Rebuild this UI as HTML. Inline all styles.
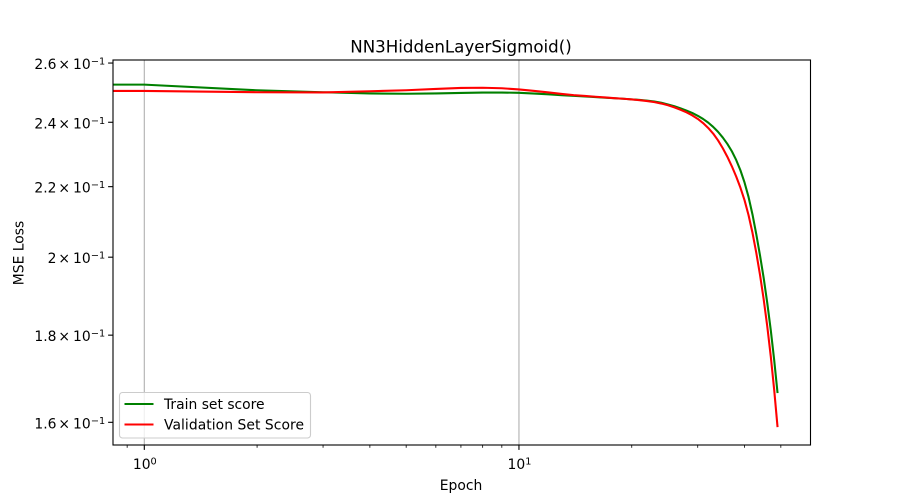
<!DOCTYPE html>
<html lang="en">
<head>
<meta charset="utf-8">
<title>NN3HiddenLayerSigmoid()</title>
<style>
html,body{margin:0;padding:0;background:#fff;}
svg{display:block;font-family:"DejaVu Sans","Liberation Sans",sans-serif;fill:#000;}
</style>
</head>
<body>
<svg id="chart" xmlns="http://www.w3.org/2000/svg" width="900" height="500" viewBox="0 0 900 500">
<rect x="0" y="0" width="900" height="500" fill="#fff"/>
<text x="461" y="52.5" font-size="16.67" text-anchor="middle" fill="#000">NN3HiddenLayerSigmoid()</text>
<text x="461" y="490" font-size="13.89" text-anchor="middle" fill="#000">Epoch</text>
<text x="0" y="0" font-size="13.89" text-anchor="middle" fill="#000" transform="translate(23.5 253) rotate(-90)">MSE Loss</text>
<g id="plot"></g>
<g>
<rect x="119.5" y="392.5" width="191" height="45.5" rx="3" ry="3" fill="#fff" fill-opacity="0.8" stroke="#ccc" stroke-width="1.1"/>
<line x1="124.5" y1="404" x2="153.5" y2="404" stroke="#008000" stroke-width="2.08"/>
<text x="164" y="409" font-size="13.89" fill="#000">Train set score</text>
<line x1="124.5" y1="424.5" x2="153.5" y2="424.5" stroke="#ff0000" stroke-width="2.08"/>
<text x="164" y="429.5" font-size="13.89" fill="#000" textLength="140">Validation Set Score</text>
</g>
</svg>
<script>
const epochs = [0.825,1,2,3,4,5,6,7,8,9,10,11,12,13,14,15,16,17,18,19,20,21,22,23,24,25,26,27,28,29,30,31,32,33,34,35,36,37,38,39,40,41,42,43,44,45,46,47,48,49];
const trainScores = [0.25252,0.25252,0.25061,0.24994,0.24953,0.24943,0.24953,0.24970,0.24984,0.24984,0.24974,0.24950,0.24923,0.24896,0.24872,0.24852,0.24832,0.24809,0.24792,0.24775,0.24755,0.24735,0.24712,0.24682,0.24642,0.24585,0.24525,0.24456,0.24383,0.24304,0.24212,0.24108,0.23988,0.23849,0.23691,0.23509,0.23307,0.23078,0.22808,0.22493,0.22125,0.21696,0.21192,0.20627,0.20044,0.19443,0.18798,0.18124,0.17404,0.16645];
const validationScores = [0.25038,0.25038,0.24994,0.24987,0.25028,0.25061,0.25106,0.25139,0.25146,0.25129,0.25089,0.25038,0.24987,0.24936,0.24896,0.24869,0.24842,0.24819,0.24795,0.24775,0.24752,0.24728,0.24698,0.24662,0.24615,0.24559,0.24489,0.24409,0.24324,0.24226,0.24111,0.23975,0.23816,0.23634,0.23418,0.23172,0.22904,0.22615,0.22305,0.21970,0.21601,0.21169,0.20674,0.20118,0.19527,0.18892,0.18215,0.17491,0.16717,0.15897];
const xMajorTicks = [1,10];
const xMajorExponents = ["0","1"];
const xMinorTicks = [0.9,2,3,4,5,6,7,8,9,20,30,40,50];
const yTicks = [0.26,0.24,0.22,0.20,0.18,0.16];
const yTickMantissas = ["2.6","2.4","2.2","2","1.8","1.6"];
const xDomain = [0.825,60];
const yDomain = [0.15517,0.26107];

const NS = 'http://www.w3.org/2000/svg';
const plotLeft = 113, plotRight = 810.5, plotTop = 60, plotBottom = 445;
function xScale(v){
  return plotLeft + (Math.log10(v) - Math.log10(xDomain[0])) / (Math.log10(xDomain[1]) - Math.log10(xDomain[0])) * (plotRight - plotLeft);
}
function yScale(v){
  return plotBottom - (Math.log10(v) - Math.log10(yDomain[0])) / (Math.log10(yDomain[1]) - Math.log10(yDomain[0])) * (plotBottom - plotTop);
}
function make(tag, attrs, parent){
  const el = document.createElementNS(NS, tag);
  for (const k in attrs) el.setAttribute(k, attrs[k]);
  parent.appendChild(el);
  return el;
}
const plot = document.getElementById('plot');

const bg = make('rect', {x:plotLeft, y:plotTop, width:plotRight-plotLeft, height:plotBottom-plotTop, fill:'#fff'}, plot);



xMajorTicks.forEach(function(t){
  const g = make('line', {x1:xScale(t), x2:xScale(t), y1:plotTop, y2:plotBottom, stroke:'#b0b0b0', 'stroke-width':1.1}, plot);
  
  
});

const defs = make('defs', {}, plot);
const clip = make('clipPath', {id:'plot-clip'}, defs);
make('rect', {x:plotLeft, y:plotTop, width:plotRight-plotLeft, height:plotBottom-plotTop}, clip);

function drawSeries(values, color){
  const pts = epochs.map(function(e, i){ return xScale(e).toFixed(2) + ',' + yScale(values[i]).toFixed(2); }).join(' ');
  return make('polyline', {points:pts, fill:'none', stroke:color, 'stroke-width':2.08, 'stroke-linejoin':'round', 'stroke-linecap':'butt', 'clip-path':'url(#plot-clip)'}, plot);
}
const trainLine = drawSeries(trainScores, '#008000');


const validationLine = drawSeries(validationScores, '#ff0000');



xMinorTicks.forEach(function(t){
  const m = make('line', {x1:xScale(t), x2:xScale(t), y1:plotBottom, y2:plotBottom+2.8, stroke:'#000', 'stroke-width':0.8}, plot);
  
  
});

xMajorTicks.forEach(function(t, i){
  const m = make('line', {x1:xScale(t), x2:xScale(t), y1:plotBottom, y2:plotBottom+4.9, stroke:'#000', 'stroke-width':1.1}, plot);
  
  
  const lab = make('text', {x:xScale(t)+0.5, y:469, 'font-size':13.89, 'text-anchor':'middle', fill:'#000'}, plot);
  
  
  lab.appendChild(document.createTextNode('10'));
  const sup = make('tspan', {dy:-4.5, 'font-size':9.72}, lab);
  sup.textContent = xMajorExponents[i];
});

yTicks.forEach(function(t, i){
  const y = yScale(t);
  const m = make('line', {x1:plotLeft-4.9, x2:plotLeft, y1:y, y2:y, stroke:'#000', 'stroke-width':1.1}, plot);
  
  
  const lab = make('text', {y:y+6, 'font-size':13.89, 'text-anchor':'end', fill:'#000'}, plot);
  
  
  const mant = make('tspan', {x:56.5}, lab);
  mant.textContent = yTickMantissas[i];
  const times = make('tspan', {x:70}, lab);
  times.textContent = '\u00D7';
  const ten = make('tspan', {x:90.7}, lab);
  ten.textContent = '10';
  const sup = make('tspan', {x:105.2, dy:-4.5, 'font-size':9.72}, lab);
  sup.textContent = '\u22121';
});

const spine = make('rect', {x:plotLeft, y:plotTop, width:plotRight-plotLeft, height:plotBottom-plotTop, fill:'none', stroke:'#000', 'stroke-width':1.1}, plot);


</script>
</body>
</html>
